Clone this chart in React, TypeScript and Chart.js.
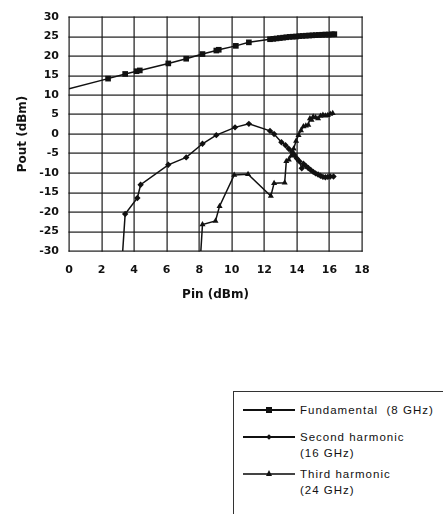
import React, { useEffect, useRef } from "react";
import { Chart, registerables } from "chart.js";

Chart.register(...registerables);

// Pin (dBm) / Pout (dBm)
const fundX = [0, 2.4, 3.45, 4.15, 4.35, 6.1, 7.2, 8.2, 9.05, 9.2, 10.25, 11.05, 12.35, 12.55, 12.75, 12.95, 13.15, 13.35, 13.55, 13.75, 13.95, 14.15, 14.35, 14.55, 14.75, 14.95, 15.15, 15.35, 15.55, 15.75, 15.95, 16.15, 16.3];
const fundY = [11.6, 14.2, 15.4, 16.1, 16.3, 18.1, 19.3, 20.5, 21.4, 21.6, 22.6, 23.5, 24.3, 24.4, 24.5, 24.6, 24.7, 24.8, 24.9, 24.95, 25.0, 25.1, 25.15, 25.2, 25.25, 25.3, 25.35, 25.4, 25.45, 25.5, 25.5, 25.55, 25.6];

const secX = [3.3, 3.45, 4.2, 4.4, 6.1, 7.2, 8.2, 9.05, 10.2, 11.05, 12.35, 12.6, 13.05, 13.3, 13.5, 13.7, 13.85, 14.0, 14.15, 14.3, 14.4, 14.55, 14.7, 14.85, 15.0, 15.15, 15.3, 15.45, 15.6, 15.75, 15.9, 16.05, 16.25];
const secY = [-30, -20.5, -16.4, -13.0, -7.9, -6.0, -2.5, -0.3, 1.7, 2.6, 0.8, 0.0, -2.1, -2.9, -3.8, -4.6, -5.4, -6.3, -7.0, -8.8, -7.6, -8.2, -8.7, -9.2, -9.7, -10.1, -10.4, -10.7, -11.0, -11.1, -11.0, -10.9, -10.9];

const thirdX = [8.1, 8.2, 9.0, 9.25, 10.15, 11.0, 12.4, 12.6, 13.25, 13.35, 13.5, 13.65, 13.8, 13.95, 14.1, 14.25, 14.4, 14.55, 14.7, 14.8, 14.9, 15.0, 15.15, 15.3, 15.45, 15.6, 15.75, 15.9, 16.05, 16.2];
const thirdY = [-30, -23.2, -22.3, -18.5, -10.5, -10.3, -15.9, -12.6, -12.5, -7.0, -6.6, -5.6, -3.8, -1.8, -0.3, 0.9, 1.9, 2.1, 2.3, 4.0, 3.6, 4.4, 4.2, 4.0, 4.6, 4.9, 4.7, 4.8, 5.1, 5.3];

const seriesNames = ["Fundamental  (8 GHz)", "Second harmonic", "Third harmonic"];
const seriesSub = ["", "(16 GHz)", "(24 GHz)"];

const xTitle = "Pin (dBm)";
const yTitle = "Pout (dBm)";

const toPts = (xs: number[], ys: number[]) => xs.map((x, i) => ({ x, y: ys[i] }));
const radii = (n: number, r: number, hideFirst: boolean) =>
  Array.from({ length: n }, (_, i) => (hideFirst && i === 0 ? 0 : r));

const gridPlugin = {
  id: "gridLines",
  beforeDatasetsDraw(chart: any) {
    const { ctx, chartArea, scales } = chart;
    const top = Math.round(chartArea.top);
    const bottom = Math.round(chartArea.bottom);
    const left = Math.round(chartArea.left);
    const right = Math.round(chartArea.right);
    ctx.save();
    ctx.fillStyle = "#1a1a1a";
    scales.x.ticks.forEach((t: any) => {
      const px = Math.round(scales.x.getPixelForValue(t.value));
      ctx.fillRect(px - 0.5, top - 0.5, 1.2, bottom - top + 1.2);
    });
    scales.y.ticks.forEach((t: any) => {
      const py = Math.round(scales.y.getPixelForValue(t.value));
      ctx.fillRect(left - 0.5, py - 0.5, right - left + 1.2, 1.2);
    });
    ctx.restore();
  },
};

const LegendMarker = ({ kind }: { kind: string }) => {
  if (kind === "square")
    return <div style={{ position: "absolute", left: 23, top: -3, width: 6, height: 6, background: "#111" }} />;
  if (kind === "diamond")
    return <div style={{ position: "absolute", left: 24, top: -2, width: 4, height: 4, background: "#111", transform: "rotate(45deg)" }} />;
  return (
    <div style={{ position: "absolute", left: 23, top: -4, width: 0, height: 0, borderLeft: "3.5px solid transparent", borderRight: "3.5px solid transparent", borderBottom: "6px solid #111" }} />
  );
};

export default function App() {
  const ref = useRef<HTMLCanvasElement | null>(null);

  useEffect(() => {
    const canvas = ref.current!;
    const tickFont = { family: "'DejaVu Sans', sans-serif", size: 11, weight: "bold" as const };
    const titleFont = { family: "'DejaVu Sans', sans-serif", size: 12, weight: "bold" as const };
    const chart = new Chart(canvas, {
      type: "scatter",
      data: {
        datasets: [
          {
            label: seriesNames[0],
            data: toPts(fundX, fundY),
            showLine: true,
            borderColor: "#111",
            backgroundColor: "#111",
            borderWidth: 1.5,
            pointStyle: "rect",
            pointRadius: radii(fundX.length, 4, true),
            pointBorderWidth: 0,
          },
          {
            label: seriesNames[1],
            data: toPts(secX, secY),
            showLine: true,
            borderColor: "#111",
            backgroundColor: "#111",
            borderWidth: 1.5,
            pointStyle: "rectRot",
            pointRadius: radii(secX.length, 3.2, true),
            pointBorderWidth: 0,
          },
          {
            label: seriesNames[2],
            data: toPts(thirdX, thirdY),
            showLine: true,
            borderColor: "#111",
            backgroundColor: "#111",
            borderWidth: 1.5,
            pointStyle: "triangle",
            pointRadius: radii(thirdX.length, 3.5, true),
            pointBorderWidth: 0,
          },
        ],
      },
      options: {
        responsive: false,
        animation: false,
        devicePixelRatio: 1,
        layout: { padding: { left: 0, right: 81, top: 17, bottom: 0 } },
        plugins: { legend: { display: false }, tooltip: { enabled: false } },
        scales: {
          x: {
            type: "linear",
            min: 0,
            max: 18,
            afterFit: (s: any) => { s.height = 59; },
            ticks: { stepSize: 2, color: "#111", font: tickFont, padding: 13 },
            grid: { display: false, drawTicks: false },
            border: { display: false },
            title: { display: true, text: xTitle, color: "#111", font: titleFont, padding: { top: 0, bottom: 8 } },
          },
          y: {
            type: "linear",
            min: -30,
            max: 30,
            afterFit: (s: any) => { s.width = 69; },
            ticks: { stepSize: 5, color: "#111", font: tickFont, padding: 10 },
            grid: { display: false, drawTicks: false },
            border: { display: false },
            title: { display: true, text: yTitle, color: "#111", font: titleFont, padding: { top: 16, bottom: 0 } },
          },
        },
      },
      plugins: [gridPlugin],
    });
    return () => chart.destroy();
  }, []);

  const entryTops = [410, 437, 474];
  const kinds = ["square", "diamond", "triangle"];
  const textStyle: React.CSSProperties = {
    position: "absolute",
    left: 300,
    fontFamily: "'Liberation Sans', Arial, sans-serif",
    fontSize: 11.5,
    letterSpacing: "1px",
    color: "#111",
    lineHeight: "16.5px",
    whiteSpace: "pre",
  };

  return (
    <div style={{ position: "absolute", left: 0, top: 0, width: 443, height: 514, overflow: "hidden", background: "#fff" }}>
      <canvas ref={ref} width={443} height={310} style={{ position: "absolute", left: 0, top: 0, width: 443, height: 310 }} />
      <div style={{ position: "absolute", left: 233, top: 391, width: 260, height: 140, borderTop: "1px solid #333", borderLeft: "1px solid #333" }} />
      {entryTops.map((y, i) => (
        <React.Fragment key={i}>
          <div style={{ position: "absolute", left: 243, top: y, width: 52, height: 0 }}>
            <div style={{ position: "absolute", left: 0, top: -0.75, width: 52, height: 1.5, background: i === 2 ? "#444" : "#111" }} />
            <LegendMarker kind={kinds[i]} />
          </div>
          <div style={{ ...textStyle, top: y - 8.5 }}>
            {seriesNames[i]}
            {seriesSub[i] ? <br /> : null}
            {seriesSub[i]}
          </div>
        </React.Fragment>
      ))}
    </div>
  );
}
